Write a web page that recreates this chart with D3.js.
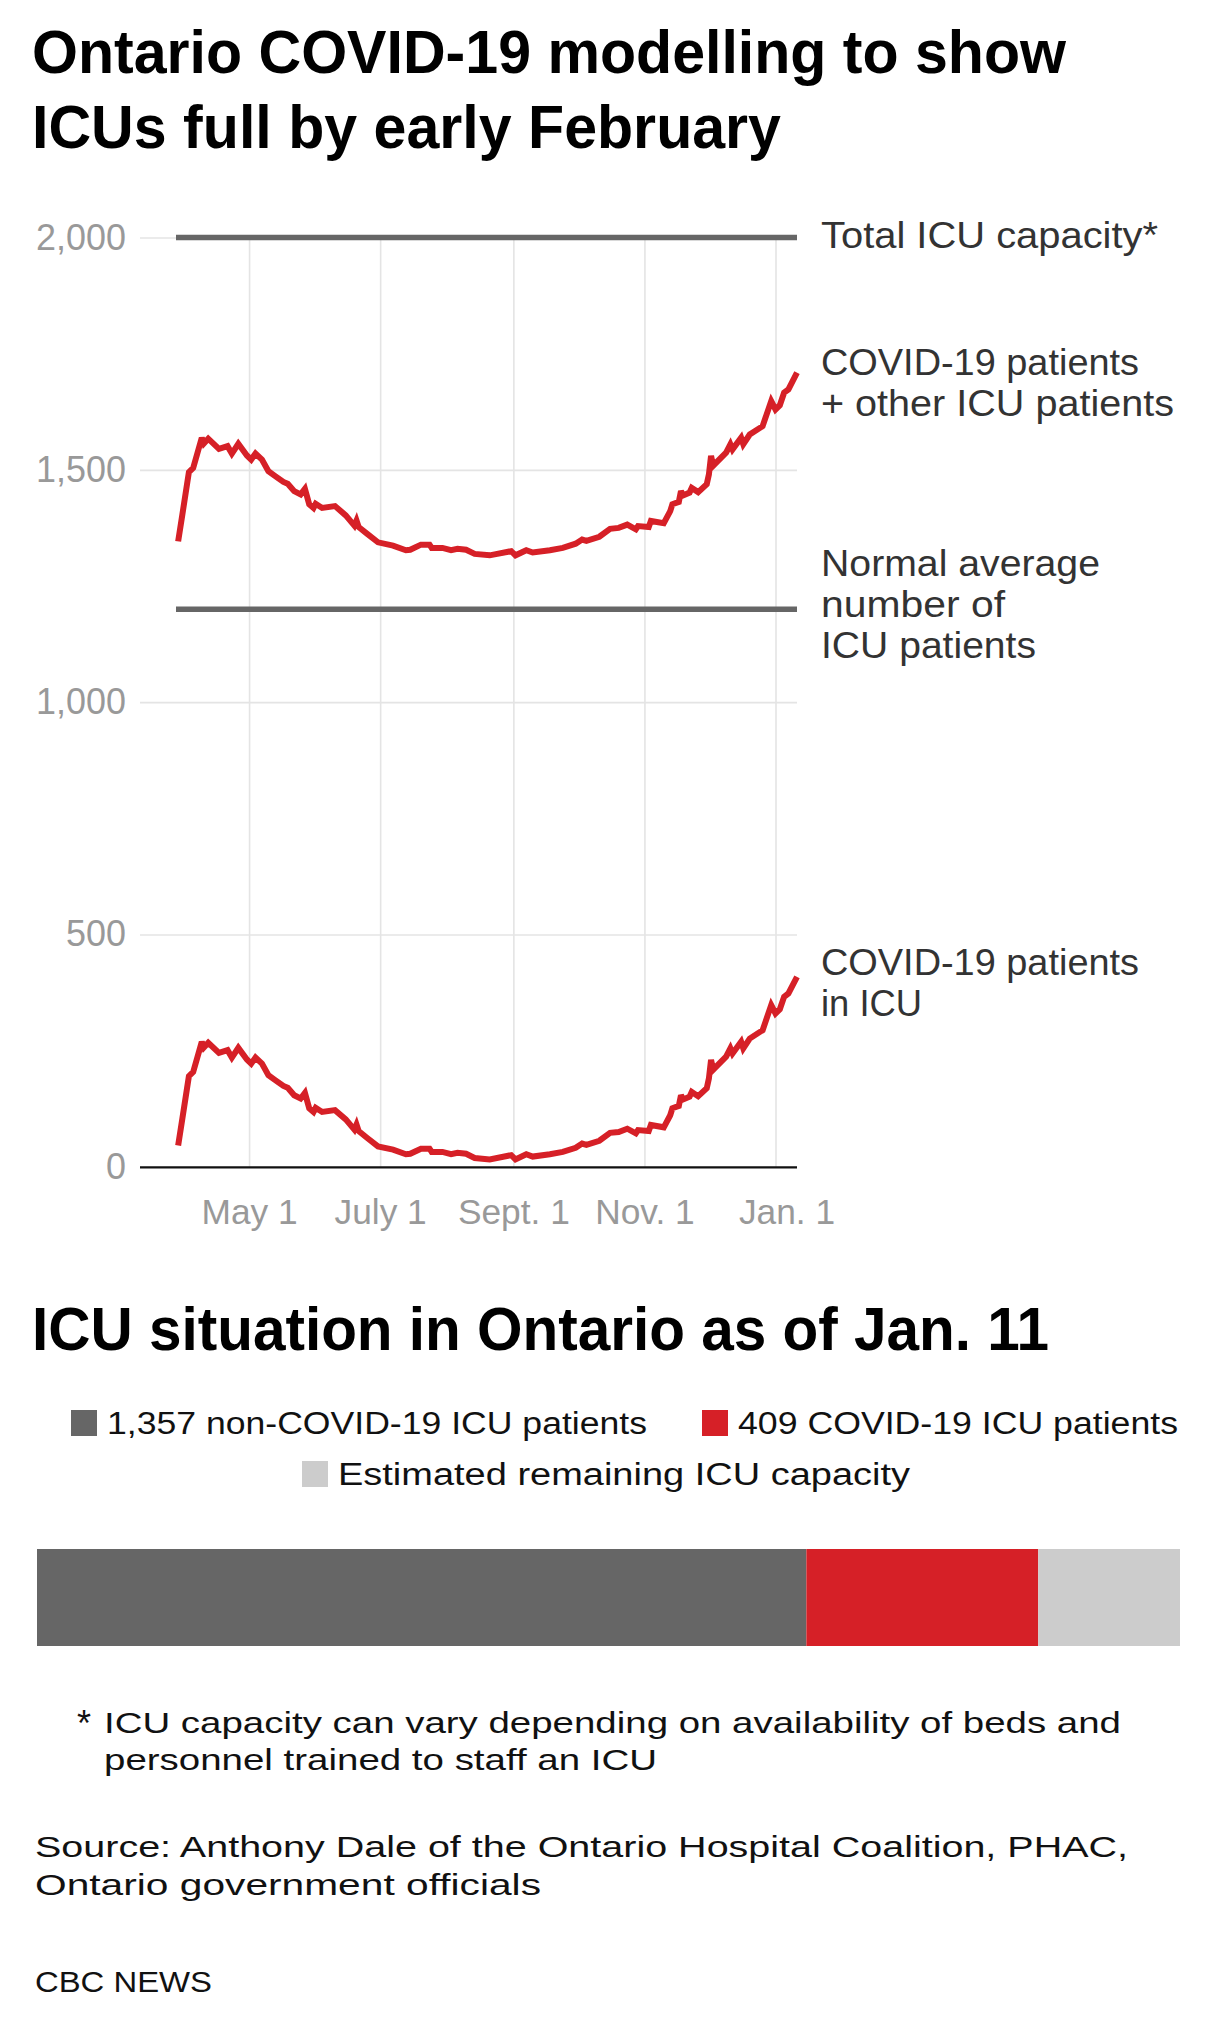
<!DOCTYPE html>
<html><head><meta charset="utf-8">
<script src="https://cdn.jsdelivr.net/npm/d3@7"></script>
<style>
body{margin:0;background:#fff}
svg{display:block}
text{font-family:"Liberation Sans",Arial,sans-serif}
</style>
</head><body>
<svg id="chart" width="1212" height="2023"></svg>
<script>
// ---------- DATA ----------
const dates = ["2020-03-29","2020-03-31","2020-04-03","2020-04-05","2020-04-09","2020-04-10","2020-04-12","2020-04-17","2020-04-21","2020-04-23","2020-04-26","2020-04-30","2020-05-02","2020-05-04","2020-05-07","2020-05-10","2020-05-13","2020-05-17","2020-05-19","2020-05-22","2020-05-25","2020-05-27","2020-05-29","2020-05-31","2020-06-01","2020-06-04","2020-06-10","2020-06-15","2020-06-19","2020-06-20","2020-06-21","2020-06-25","2020-06-30","2020-07-07","2020-07-13","2020-07-15","2020-07-20","2020-07-24","2020-07-25","2020-07-30","2020-08-03","2020-08-06","2020-08-10","2020-08-14","2020-08-21","2020-08-31","2020-09-02","2020-09-07","2020-09-10","2020-09-18","2020-09-24","2020-09-30","2020-10-03","2020-10-05","2020-10-11","2020-10-16","2020-10-20","2020-10-24","2020-10-28","2020-10-29","2020-11-03","2020-11-04","2020-11-10","2020-11-13","2020-11-14","2020-11-17","2020-11-18","2020-11-19","2020-11-22","2020-11-23","2020-11-26","2020-11-30","2020-12-01","2020-12-02","2020-12-03","2020-12-09","2020-12-11","2020-12-12","2020-12-16","2020-12-17","2020-12-20","2020-12-26","2020-12-30","2021-01-01","2021-01-03","2021-01-05","2021-01-07","2021-01-11"];
const covidICU = [46,105,195,204,269,257,267,245,251,235,256,231,222,235,222,197,187,174,170,154,147,159,126,118,127,118,122,102,80,91,77,62,44,37,27,28,39,39,32,32,27,30,28,19,16,25,16,27,22,27,32,41,50,47,56,73,75,82,72,79,77,90,85,111,126,131,154,145,151,161,152,169,190,230,209,237,255,244,269,255,276,294,348,330,339,366,373,409];
const totalICU = [1346,1405,1495,1504,1569,1557,1567,1545,1551,1535,1556,1531,1522,1535,1522,1497,1487,1474,1470,1454,1447,1459,1426,1418,1427,1418,1422,1402,1380,1391,1377,1362,1344,1337,1327,1328,1339,1339,1332,1332,1327,1330,1328,1319,1316,1325,1316,1327,1322,1327,1332,1341,1350,1347,1356,1373,1375,1382,1372,1379,1377,1390,1385,1411,1426,1431,1454,1445,1451,1461,1452,1469,1490,1530,1509,1537,1555,1544,1569,1555,1576,1594,1648,1630,1639,1666,1673,1709];
const capacityLevel = 2000;
const normalAverage = 1200;
const xDomain = ["2020-03-28","2021-01-11"];
const yTicks = [0,500,1000,1500,2000];
const xTickDates = ["2020-05-01","2020-07-01","2020-09-01","2020-11-01","2021-01-01"];
const xTickLabels = ["May 1","July 1","Sept. 1","Nov. 1","Jan. 1"];
const barCategories = ["non-COVID-19 ICU patients","COVID-19 ICU patients","Estimated remaining ICU capacity"];
const barValues = [1357,409,250];
const legendLabels = ["1,357 non-COVID-19 ICU patients","409 COVID-19 ICU patients","Estimated remaining ICU capacity"];

// ---------- SETUP ----------
const FONT = '"Liberation Sans",Arial,sans-serif';
const parse = d3.utcParse("%Y-%m-%d");
const svg = d3.select("#chart");
svg.append("rect").attr("width",1212).attr("height",2023).attr("fill","#fff");

const RED = "#d62027", DGRAY = "#666666", LGRAY = "#cccccc";

// multi-line text block: lines = [[string, targetWidth], ...]
function block(parent, x, y, lh, size, weight, color, lines){
  const t = parent.append("text")
    .attr("x", x).attr("y", y).attr("font-family", FONT)
    .attr("font-size", size).attr("font-weight", weight).attr("fill", color);
  lines.forEach(([s, w], i) => {
    t.append("tspan").attr("x", x).attr("y", y + i*lh)
      .attr("textLength", w).attr("lengthAdjust", "spacingAndGlyphs")
      .text(s);
  });
  return t;
}

// ---------- TITLE ----------
block(svg, 32, 73, 75, 61, 700, "#000", [
  ["Ontario COVID-19 modelling to show", 1034],
  ["ICUs full by early February", 749]
]);

// ---------- LINE CHART ----------
const x = d3.scaleUtc().domain(xDomain.map(parse)).range([176, 797]);
const y = d3.scaleLinear().domain([0, 2000]).range([1166.8, 237.5]);

const yAxis = svg.append("g").attr("transform","translate(797,0)")
  .call(d3.axisLeft(y).tickValues(yTicks).tickFormat(d3.format(",")).tickSize(657).tickPadding(14));
yAxis.select(".domain").remove();
yAxis.selectAll(".tick line").attr("stroke", d => d === 0 ? "#111" : "#e4e4e4").attr("stroke-width", d => d === 0 ? 2.2 : 1.6);
yAxis.selectAll(".tick text").attr("font-size",36).attr("fill","#999").attr("font-family",FONT);

const xAxis = svg.append("g").attr("transform",`translate(0,${y(0)})`)
  .call(d3.axisBottom(x).tickValues(xTickDates.map(parse)).tickFormat((d,i)=>xTickLabels[i])
        .tickSize(-(y(0)-y(2000))).tickPadding(32));
xAxis.select(".domain").remove();
xAxis.selectAll(".tick line").attr("stroke","#e4e4e4").attr("stroke-width",1.6);
xAxis.selectAll(".tick text").attr("font-size",36).attr("fill","#999").attr("font-family",FONT);
yAxis.raise();

(function(){
  const yTexts = yAxis.selectAll(".tick text").nodes();
  const ref = yTexts.find(n => n.textContent === "2,000");
  const r = 90 / ref.getComputedTextLength();
  yAxis.selectAll(".tick text").each(function(){
    const s = d3.select(this); s.attr("x", +s.attr("x")/r).attr("transform",`scale(${r},1)`);
  });
  const xTexts = xAxis.selectAll(".tick text").nodes();
  const refx = xTexts.find(n => n.textContent === "Sept. 1");
  const rx = 112 / refx.getComputedTextLength();
  xAxis.selectAll(".tick text").each(function(d,i){
    const s = d3.select(this);
    s.attr("x", (i === xTickLabels.length-1 ? 11 : 0)/rx).attr("transform",`scale(${rx},1)`);
  });
})();

// reference lines
[capacityLevel, normalAverage].forEach(v => {
  svg.append("line")
    .attr("x1", x.range()[0]).attr("x2", x.range()[1])
    .attr("y1", y(v)).attr("y2", y(v))
    .attr("stroke", DGRAY).attr("stroke-width", 5.5);
});

// data lines
const line = d3.line().x((d,i)=>x(parse(dates[i]))).y(d=>y(d));
[totalICU, covidICU].forEach(series => {
  svg.append("path").datum(series)
    .attr("d", line).attr("fill","none")
    .attr("stroke", RED).attr("stroke-width", 6)
    .attr("stroke-linejoin","miter").attr("stroke-miterlimit",3);
});

// annotations
const AX = 821, AS = 36, AC = "#333";
block(svg, AX, 248, 41, AS, 400, AC, [["Total ICU capacity*", 337]]);
block(svg, AX, 375, 41, AS, 400, AC, [["COVID-19 patients", 318], ["+ other ICU patients", 353]]);
block(svg, AX, 576, 41, AS, 400, AC, [["Normal average", 279], ["number of", 184], ["ICU patients", 215]]);
block(svg, AX, 975, 41, AS, 400, AC, [["COVID-19 patients", 318], ["in ICU", 101]]);

// ---------- SECOND SECTION ----------
block(svg, 32, 1350, 60, 62, 700, "#000", [["ICU situation in Ontario as of Jan. 11", 1017]]);

// legend
const legendColors = [DGRAY, RED, LGRAY];
const legendPos = [[71,1410,107,1434,540],[702,1410,738,1434,440],[302,1461,338,1485,572]];
legendLabels.forEach((lab,i) => {
  const p = legendPos[i];
  svg.append("rect").attr("x",p[0]).attr("y",p[1]).attr("width",26).attr("height",26).attr("fill",legendColors[i]);
  block(svg, p[2], p[3], 40, 31, 400, "#111", [[lab, p[4]]]);
});

// stacked bar
const total = d3.sum(barValues);
const bx = d3.scaleLinear().domain([0,total]).range([37,1180]);
const starts = [0, ...d3.cumsum(barValues)].slice(0, barValues.length);
svg.append("g").selectAll("rect").data(barValues).join("rect")
  .attr("x",(d,i)=>bx(starts[i]))
  .attr("y",1549).attr("height",97)
  .attr("width",(d,i)=>bx(starts[i]+d)-bx(starts[i]))
  .attr("fill",(d,i)=>legendColors[i])
  .append("title").text((d,i)=>barCategories[i]+": "+d);

// footnote + source
svg.append("text").attr("x",77).attr("y",1736).attr("font-family",FONT).attr("font-size",36).attr("fill","#111").text("*");
block(svg, 104, 1733, 37, 29, 400, "#111", [
  ["ICU capacity can vary depending on availability of beds and", 1017],
  ["personnel trained to staff an ICU", 553]
]);
block(svg, 35, 1857, 38, 29, 400, "#111", [
  ["Source: Anthony Dale of the Ontario Hospital Coalition, PHAC,", 1093],
  ["Ontario government officials", 506]
]);
block(svg, 35, 1992, 38, 29, 400, "#111", [["CBC NEWS", 177]]);
</script>
</body></html>
